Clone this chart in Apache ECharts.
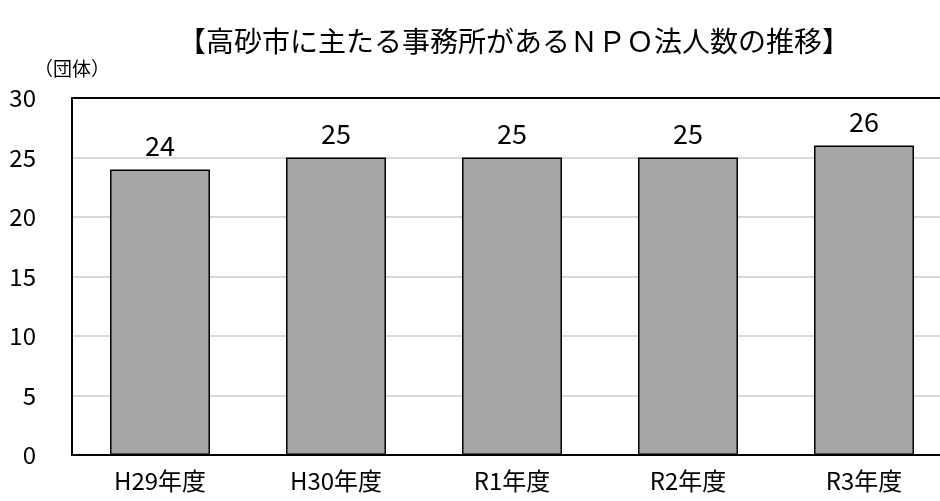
<!DOCTYPE html>
<html><head><meta charset="utf-8">
<script src="https://cdn.jsdelivr.net/npm/echarts@6/dist/echarts.min.js"></script>
<style>html,body{margin:0;padding:0;background:#fff}#c{width:940px;height:501px}</style>
</head><body><div id="c"></div>
<script>
const categories = ['H29年度','H30年度','R1年度','R2年度','R3年度'];
const values = [24,25,25,25,26];
const yTicks = {min:0,max:30,interval:5};
const titleText = '【高砂市に主たる事務所があるＮＰＯ法人数の推移】';
const unitText = '（団体）';

const cjk = '"Noto Sans CJK JP",sans-serif';
const chart = echarts.init(document.getElementById('c'),null,{renderer:'canvas'});
chart.setOption({
  animation:false,
  title:{text:titleText,left:509,top:22,textAlign:'center',
    textStyle:{fontFamily:cjk,fontWeight:'normal',fontSize:28,color:'#000'}},
  graphic:[{type:'text',left:34,top:59,style:{text:unitText,font:'19px "Noto Sans CJK JP",sans-serif',fill:'#000'}}],
  grid:{left:72,top:98,width:880,height:357,containLabel:false,outerBoundsMode:'none'},
  xAxis:[{type:'category',data:categories,position:'bottom',
    axisLine:{lineStyle:{color:'#000',width:2}},axisTick:{show:false},
    axisLabel:{fontFamily:cjk,fontSize:24,color:'#000',margin:14}},
    {type:'category',data:categories,position:'top',z:5,
    axisLine:{lineStyle:{color:'#000',width:2}},axisTick:{show:false},axisLabel:{show:false}}],
  yAxis:{type:'value',min:yTicks.min,max:yTicks.max,interval:yTicks.interval,
    axisLine:{show:true,lineStyle:{color:'#000',width:2}},axisTick:{show:false},
    splitLine:{lineStyle:{color:'#d9d9d9',width:2}},
    axisLabel:{fontFamily:cjk,fontSize:24,color:'#000',margin:36,align:'right'}},
  series:[{type:'bar',data:values,barWidth:100,
    itemStyle:{color:'#a6a6a6',borderColor:'#000',borderWidth:1.5},
    label:{show:true,position:'top',distance:10,fontFamily:cjk,fontSize:27,color:'#000'}}]
});
</script></body></html>
